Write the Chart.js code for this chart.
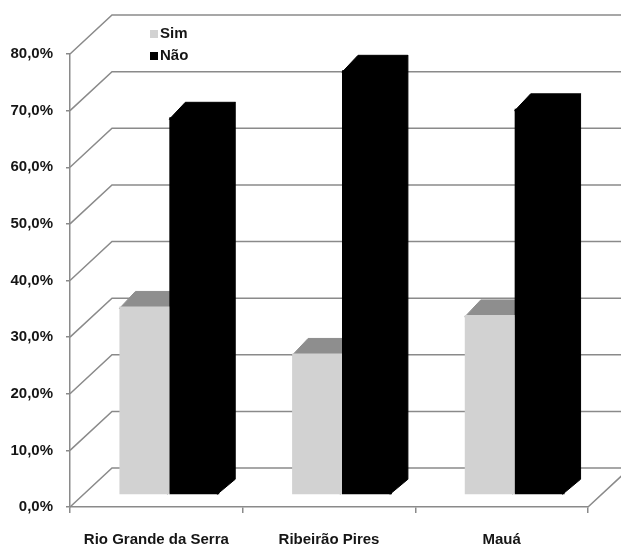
<!DOCTYPE html>
<html>
<head>
<meta charset="utf-8">
<script src="https://cdn.jsdelivr.net/npm/chart.js@4/dist/chart.umd.min.js"></script>
<style>
  html, body { margin: 0; padding: 0; background: #ffffff; }
  #wrap { width: 621px; height: 548px; }
</style>
</head>
<body>
<div id="wrap"><canvas id="chart" width="621" height="548"></canvas></div>
<script>
// Categories and values (percent)
const categories = ['Rio Grande da Serra', 'Ribeirão Pires', 'Mauá'];
const seriesNames = ['Sim', 'Não'];
const simValues = [33.3, 25.0, 31.8];
const naoValues = [66.7, 75.0, 68.2];
const yTickValues = [0, 10, 20, 30, 40, 50, 60, 70, 80];

const FONT = "'Liberation Sans', Arial, sans-serif";
const GRID = '#8a8a8a';
const TEXT = '#151515';
const SIM_FRONT = '#d2d2d2';
const SIM_TOP = '#8e8e8e';
const SIM_SIDE = '#a9a9a9';
const NAO_COLOR = '#000000';

// Oblique projection: full depth of the box, depth plane of the bars, bar thickness
const DEPTH = { dx: 42, dy: -39 };
const BAR_PLANE = { dx: 13, dy: -12 };
const BAR_DEPTH = { dx: 16, dy: -15 };

function fmtPct(v) {
  return v.toFixed(1).replace('.', ',') + '%';
}

function poly(ctx, pts, fill) {
  ctx.beginPath();
  ctx.moveTo(pts[0][0], pts[0][1]);
  for (let i = 1; i < pts.length; i++) ctx.lineTo(pts[i][0], pts[i][1]);
  ctx.closePath();
  ctx.fillStyle = fill;
  ctx.strokeStyle = fill;
  ctx.lineWidth = 1;
  ctx.fill();
  ctx.stroke();
}

const box3d = {
  id: 'box3d',
  beforeDatasetsDraw(chart) {
    const ctx = chart.ctx;
    const xs = chart.scales.x;
    const ys = chart.scales.y;
    const left = xs.left, right = xs.right;
    const base = ys.getPixelForValue(0);

    // back wall grid and left-wall diagonals
    ctx.save();
    ctx.strokeStyle = GRID;
    ctx.lineWidth = 1.5;
    ctx.beginPath();
    yTickValues.forEach(v => {
      const y = ys.getPixelForValue(v);
      ctx.moveTo(left, y);
      ctx.lineTo(left + DEPTH.dx, y + DEPTH.dy);
      ctx.lineTo(right + DEPTH.dx + 40, y + DEPTH.dy);
    });
    // floor right edge
    ctx.moveTo(right, base);
    ctx.lineTo(right + DEPTH.dx, base + DEPTH.dy);
    ctx.stroke();
    ctx.restore();

    // shift into the bar plane; fronts are drawn by the library in this frame
    ctx.save();
    ctx.translate(BAR_PLANE.dx, BAR_PLANE.dy);
    const dx = BAR_DEPTH.dx, dy = BAR_DEPTH.dy;
    const faces = [
      { top: SIM_TOP, side: SIM_SIDE },
      { top: NAO_COLOR, side: NAO_COLOR }
    ];
    for (let d = 0; d < chart.data.datasets.length; d++) {
      const meta = chart.getDatasetMeta(d);
      meta.data.forEach(bar => {
        const p = bar.getProps(['x', 'y', 'base', 'width'], true);
        const l = p.x - p.width / 2, r = p.x + p.width / 2;
        const t = p.y, b = p.base;
        // faces tuck 2px under the front so no seam shows
        poly(ctx, [[r - 2, t], [r + dx, t + dy], [r + dx, b + dy], [r - 2, b]], faces[d].side);
        poly(ctx, [[l, t + 2], [r, t + 2], [r + dx, t + dy], [l + dx, t + dy]], faces[d].top);
      });
    }
  },
  afterDatasetsDraw(chart) {
    chart.ctx.restore();
  },
  afterDraw(chart) {
    // legend
    const ctx = chart.ctx;
    ctx.save();
    ctx.font = 'bold 15px ' + FONT;
    ctx.textBaseline = 'middle';
    ctx.textAlign = 'left';
    chart.data.datasets.forEach((ds, i) => {
      const cy = 34 + i * 22;
      ctx.fillStyle = ds.backgroundColor;
      ctx.fillRect(150, cy - 4, 8, 8);
      ctx.fillStyle = TEXT;
      ctx.fillText(ds.label, 160, cy);
    });
    ctx.restore();
  }
};

new Chart(document.getElementById('chart'), {
  type: 'bar',
  data: {
    labels: categories,
    datasets: [
      { label: seriesNames[0], data: simValues, backgroundColor: SIM_FRONT,
        borderWidth: 0, categoryPercentage: 0.578, barPercentage: 1.0 },
      { label: seriesNames[1], data: naoValues, backgroundColor: NAO_COLOR,
        borderWidth: 0, categoryPercentage: 0.578, barPercentage: 1.0 }
    ]
  },
  options: {
    responsive: false,
    animation: false,
    devicePixelRatio: 1,
    layout: { padding: { top: 54, right: 33, bottom: 0, left: 0 } },
    plugins: {
      legend: { display: false },
      tooltip: { enabled: false },
      title: { display: false }
    },
    scales: {
      x: {
        grid: { display: true, drawOnChartArea: false, drawTicks: true, tickLength: 6,
                color: GRID, lineWidth: 1.5, offset: true },
        border: { display: true, color: GRID, width: 1.5 },
        ticks: { color: TEXT, padding: 18, font: { family: FONT, size: 15, weight: 'bold' },
                 maxRotation: 0, autoSkip: false },
        afterFit(scale) { scale.height = 41; }
      },
      y: {
        min: 0,
        max: 80,
        afterBuildTicks(scale) { scale.ticks = yTickValues.map(v => ({ value: v })); },
        grid: { display: true, drawOnChartArea: false, drawTicks: true, tickLength: 4,
                color: GRID, lineWidth: 1.5 },
        border: { display: true, color: GRID, width: 1.5 },
        ticks: { color: TEXT, padding: 13, font: { family: FONT, size: 15, weight: 'bold' },
                 callback: v => fmtPct(v) },
        afterFit(scale) { scale.width = 70; }
      }
    }
  },
  plugins: [box3d]
});
</script>
</body>
</html>
